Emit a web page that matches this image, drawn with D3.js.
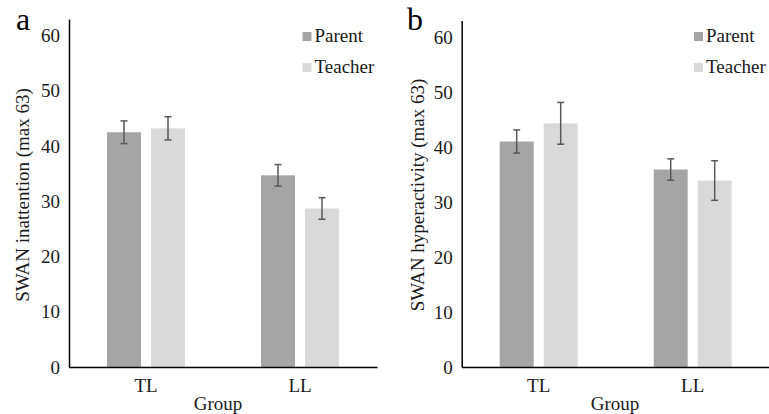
<!DOCTYPE html>
<html>
<head>
<meta charset="utf-8">
<script src="https://cdn.jsdelivr.net/npm/d3@7"></script>
<style>
  html, body { margin: 0; padding: 0; background: #fff; }
</style>
</head>
<body>
<svg id="chart" width="769" height="414"></svg>
<script>
// ---- data ----
const groups = ["TL", "LL"];
const raters = ["Parent", "Teacher"];
const yTicks = [0, 10, 20, 30, 40, 50, 60];
// panel a: SWAN inattention
const inattentionMean = [[42.5, 43.2], [34.7, 28.7]];
const inattentionErr  = [[2.05, 2.1], [1.95, 1.95]];
// panel b: SWAN hyperactivity
const hyperMean = [[41.0, 44.3], [35.9, 33.9]];
const hyperErr  = [[2.1, 3.8], [1.95, 3.6]];

const colors = { Parent: "#a5a5a5", Teacher: "#d9d9d9" };
const FONT = "Liberation Serif";
const FS = "19px";
const TXT = "#1a1a1a";

const svg = d3.select("#chart");

function styleText(sel, size) {
  return sel.style("font-family", FONT).style("font-size", size || FS).style("fill", TXT);
}

function panel(opts) {
  const g = svg.append("g");
  const y = d3.scaleLinear().domain([0, 63]).range([367, opts.top]);
  const x = d3.scaleBand().domain(groups).range([opts.left, opts.right]).padding(0);
  const xi = d3.scaleBand().domain(raters).range([-39, 39]).paddingInner(10 / 44).paddingOuter(0);

  // bars
  groups.forEach((grp, gi) => {
    raters.forEach((r, ri) => {
      const v = opts.mean[gi][ri];
      const e = opts.err[gi][ri];
      const cx = x(grp) + x.bandwidth() / 2;
      const bx = cx + xi(r);
      g.append("rect")
        .attr("x", bx).attr("y", y(v))
        .attr("width", xi.bandwidth()).attr("height", y(0) - y(v))
        .attr("fill", colors[r]);
      const ex = bx + xi.bandwidth() / 2;
      const eb = g.append("g").attr("stroke", "#595959").attr("stroke-width", 1.5);
      eb.append("line").attr("x1", ex).attr("x2", ex).attr("y1", y(v + e)).attr("y2", y(v - e));
      eb.append("line").attr("x1", ex - 3.5).attr("x2", ex + 3.5).attr("y1", y(v + e)).attr("y2", y(v + e));
      eb.append("line").attr("x1", ex - 3.5).attr("x2", ex + 3.5).attr("y1", y(v - e)).attr("y2", y(v - e));
    });
  });

  // y axis
  const ya = g.append("g").attr("transform", `translate(${opts.left},0)`)
    .call(d3.axisLeft(y).tickValues(yTicks).tickSize(0).tickPadding(9).tickSizeOuter(0));
  ya.select(".domain").attr("stroke", "#000").attr("stroke-width", 1.5);
  styleText(ya.selectAll("text"));

  // x axis
  const xa = g.append("g").attr("transform", `translate(0,367)`)
    .call(d3.axisBottom(x).tickSize(0).tickPadding(12).tickSizeOuter(0));
  xa.select(".domain").attr("stroke", "#000").attr("stroke-width", 1.5);
  styleText(xa.selectAll("text"));

  // axis titles
  styleText(g.append("text")
    .attr("transform", `translate(${opts.titleX},195) rotate(-90)`)
    .attr("text-anchor", "middle").attr("dominant-baseline", "central")
    .text(opts.yTitle));
  styleText(g.append("text")
    .attr("x", opts.groupX).attr("y", 410)
    .attr("text-anchor", "middle").text("Group"));

  // panel letter
  styleText(g.append("text").attr("x", opts.letterX).attr("y", 30).text(opts.letter), "32px")
    .style("fill", "#000");

  // legend
  raters.forEach((r, i) => {
    const ly = 32 + i * 31;
    g.append("rect").attr("x", opts.legX).attr("y", ly).attr("width", 9).attr("height", 9).attr("fill", colors[r]);
    styleText(g.append("text").attr("x", opts.legX + 12).attr("y", ly + 10).text(r));
  });
}

panel({ left: 69, right: 377, top: 19, mean: inattentionMean, err: inattentionErr,
        yTitle: "SWAN inattention (max 63)", titleX: 22, groupX: 218,
        letter: "a", letterX: 16, legX: 302.5 });
panel({ left: 461.7, right: 769.7, top: 20.5, mean: hyperMean, err: hyperErr,
        yTitle: "SWAN hyperactivity (max 63)", titleX: 417, groupX: 615,
        letter: "b", letterX: 407, legX: 694 });
</script>
</body>
</html>
